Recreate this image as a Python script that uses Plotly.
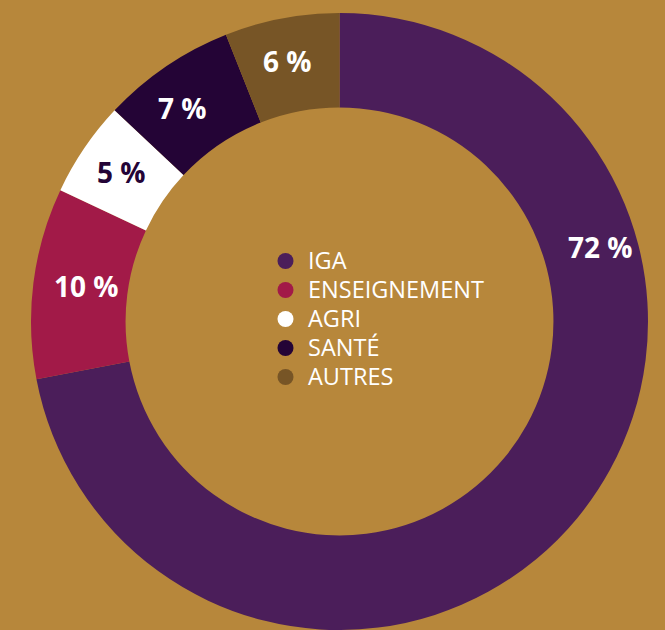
import math
import plotly.graph_objects as go

# ---- data ----
categories = ["IGA", "ENSEIGNEMENT", "AGRI", "SANTÉ", "AUTRES"]
values = [72, 10, 5, 7, 6]
slice_colors = ["#4B1E5A", "#A21A48", "#FFFFFF", "#240436", "#775526"]
label_colors = ["#FFFFFF", "#FFFFFF", "#240436", "#FFFFFF", "#FFFFFF"]

BG = "#B7873B"
W, H = 665, 630

# pie geometry (paper domain)
dom_x = [31 / W, 648 / W]
dom_y = [0.0, 1 - 13 / H]
HOLE = 0.6935

# label placement style: (angle offset from slice middle in degrees, fraction across ring)
label_style = [None, (0.8, 0.44), (0.3, 0.53), (-2.0, 0.54), (-0.5, 0.545)]
IGA_LABEL_ANGLE = 74.0   # big slice label sits in its upper-right part
IGA_LABEL_FRAC = 0.61

fig = go.Figure()
fig.add_trace(go.Pie(
    labels=categories,
    values=values,
    sort=False,
    direction="clockwise",
    rotation=0,
    hole=HOLE,
    domain=dict(x=dom_x, y=dom_y),
    marker=dict(colors=slice_colors, line=dict(width=0)),
    textinfo="none",
    showlegend=False,
    hoverinfo="label+percent",
))

# legend entries with round markers
for cat, col in zip(categories, slice_colors):
    fig.add_trace(go.Scatter(
        x=[None], y=[None], mode="markers",
        name=f"<span style='font-size:23.5px'>{cat}</span>",
        marker=dict(symbol="circle", size=16, color=col),
        showlegend=True, hoverinfo="skip",
    ))

# percentage labels, positioned from the cumulative values
cx_px = (dom_x[0] + dom_x[1]) / 2 * W
cy_px = (1 - (dom_y[0] + dom_y[1]) / 2) * H
R = (dom_x[1] - dom_x[0]) * W / 2
r_in = R * HOLE
total = sum(values)
cum = 0
for i, (v, col) in enumerate(zip(values, label_colors)):
    start = cum / total * 360
    cum += v
    end = cum / total * 360
    if i == 0:
        ang, frac = IGA_LABEL_ANGLE, IGA_LABEL_FRAC
    else:
        off, frac = label_style[i]
        ang = (start + end) / 2 + off
    r = r_in + frac * (R - r_in)
    t = math.radians(ang)
    fig.add_annotation(
        x=(cx_px + r * math.sin(t)) / W,
        y=1 - (cy_px - r * math.cos(t)) / H,
        xref="paper", yref="paper", showarrow=False,
        text=f"{v} %",
        font=dict(family="Open Sans", size=28, color=col, weight=700),
        xanchor="center", yanchor="middle",
    )

fig.update_layout(
    width=W, height=H,
    margin=dict(l=0, r=0, t=0, b=0),
    paper_bgcolor=BG, plot_bgcolor=BG,
    xaxis=dict(visible=False), yaxis=dict(visible=False),
    showlegend=True,
    legend=dict(
        x=263 / W, xanchor="left",
        y=1 - 319 / H, yanchor="middle",
        bgcolor="rgba(0,0,0,0)",
        itemwidth=35,
        font=dict(family="Open Sans", size=20, color="#FFFFFF"),
        itemclick=False, itemdoubleclick=False,
    ),
)

fig.write_html(
    "out.html",
    config={"displayModeBar": False},
    post_script="document.body.style.margin='0';",
)
